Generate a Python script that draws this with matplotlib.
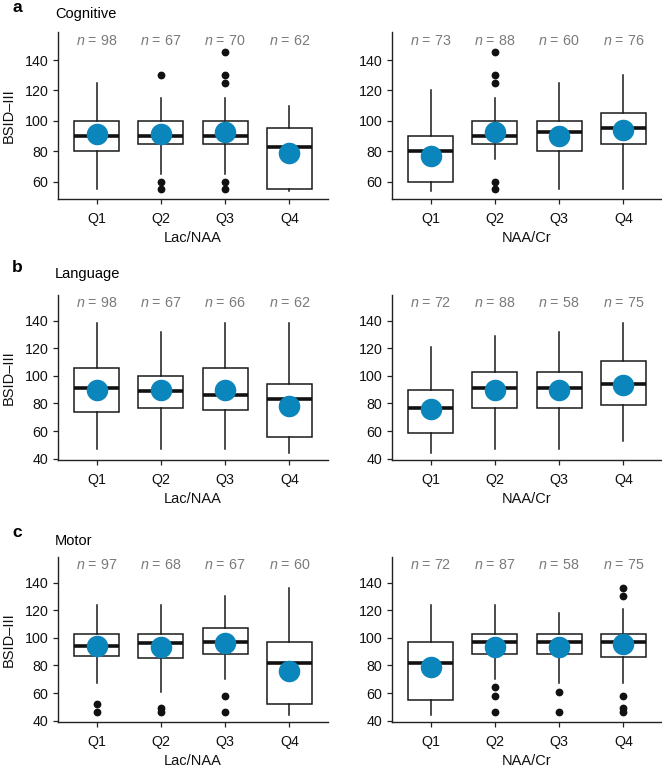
import matplotlib
matplotlib.use("Agg")
import matplotlib.pyplot as plt

plt.rcParams['font.family'] = ['Liberation Sans', 'DejaVu Sans']
plt.rcParams['mathtext.fontset'] = 'custom'
plt.rcParams['mathtext.it'] = 'Liberation Sans:italic'
plt.rcParams['mathtext.rm'] = 'Liberation Sans'

quartiles = ["Q1", "Q2", "Q3", "Q4"]
ratio_names = ["Lac/NAA", "NAA/Cr"]
domains = ["Cognitive", "Language", "Motor"]
panel_letters = ["a", "b", "c"]

# cognitive
cog_lac_whislo = [55, 65, 65, 54]
cog_lac_q1 = [80, 85, 85, 55]
cog_lac_med = [90, 90, 90, 82.5]
cog_lac_q3 = [100, 100, 100, 95]
cog_lac_whishi = [125, 115, 115, 110]
cog_lac_mean = [91, 91, 92.5, 79]
cog_lac_fliers = [[], [130, 60, 55], [145, 130, 125, 60, 55], []]
cog_lac_n = [98, 67, 70, 62]

cog_naa_whislo = [54, 75, 55, 55]
cog_naa_q1 = [60, 85, 80, 85]
cog_naa_med = [80, 90, 92.5, 95]
cog_naa_q3 = [90, 100, 100, 105]
cog_naa_whishi = [120, 115, 125, 130]
cog_naa_mean = [77, 92.5, 90, 94]
cog_naa_fliers = [[], [145, 130, 125, 60, 55], [], []]
cog_naa_n = [73, 88, 60, 76]

# language
lang_lac_whislo = [47, 47, 47, 44]
lang_lac_q1 = [74, 77, 75, 56]
lang_lac_med = [91, 89, 86, 83]
lang_lac_q3 = [105.5, 100, 105.5, 94]
lang_lac_whishi = [138, 132, 138, 138]
lang_lac_mean = [89.5, 89.5, 90, 78]
lang_lac_fliers = [[], [], [], []]
lang_lac_n = [98, 67, 66, 62]

lang_naa_whislo = [44, 47, 47, 53]
lang_naa_q1 = [58.5, 77, 77, 79]
lang_naa_med = [76.5, 91, 91, 94]
lang_naa_q3 = [89.5, 103, 103, 110.5]
lang_naa_whishi = [121, 129, 132, 138]
lang_naa_mean = [76, 89.5, 90, 93.5]
lang_naa_fliers = [[], [], [], []]
lang_naa_n = [72, 88, 58, 75]

# motor
mot_lac_whislo = [67, 61, 70, 44]
mot_lac_q1 = [87, 85, 88, 52]
mot_lac_med = [94, 96, 97, 82]
mot_lac_q3 = [103, 103, 107, 97]
mot_lac_whishi = [124, 124, 130, 136]
mot_lac_mean = [94, 93, 96, 76]
mot_lac_fliers = [[52, 46], [49, 46], [58, 46], []]
mot_lac_n = [97, 68, 67, 60]

mot_naa_whislo = [44, 70, 67, 67]
mot_naa_q1 = [55, 88, 88, 86]
mot_naa_med = [82, 97, 97, 97]
mot_naa_q3 = [97, 103, 103, 103]
mot_naa_whishi = [124, 124, 118, 121]
mot_naa_mean = [79, 93.5, 93.5, 95.5]
mot_naa_fliers = [[], [64, 58, 46], [61, 46], [136, 130, 58, 49, 46]]
mot_naa_n = [72, 87, 58, 75]

panels = [
    [(cog_lac_whislo, cog_lac_q1, cog_lac_med, cog_lac_q3, cog_lac_whishi, cog_lac_mean, cog_lac_fliers, cog_lac_n),
     (cog_naa_whislo, cog_naa_q1, cog_naa_med, cog_naa_q3, cog_naa_whishi, cog_naa_mean, cog_naa_fliers, cog_naa_n)],
    [(lang_lac_whislo, lang_lac_q1, lang_lac_med, lang_lac_q3, lang_lac_whishi, lang_lac_mean, lang_lac_fliers, lang_lac_n),
     (lang_naa_whislo, lang_naa_q1, lang_naa_med, lang_naa_q3, lang_naa_whishi, lang_naa_mean, lang_naa_fliers, lang_naa_n)],
    [(mot_lac_whislo, mot_lac_q1, mot_lac_med, mot_lac_q3, mot_lac_whishi, mot_lac_mean, mot_lac_fliers, mot_lac_n),
     (mot_naa_whislo, mot_naa_q1, mot_naa_med, mot_naa_q3, mot_naa_whishi, mot_naa_mean, mot_naa_fliers, mot_naa_n)],
]

W, H = 662, 771
fig = plt.figure(figsize=(W / 100, H / 100), dpi=100)

row_px = [(32, 199), (295, 460), (557, 722)]  # top, bottom of axes in pixels
letter_base = [11.5, 271.5, 537]
title_base = [18, 277.5, 545]
col_px = [58, 392]
ax_w = 270
ylims = [(48.5, 158.5), (39, 158.5), (39, 158.5)]
yticks = [[60, 80, 100, 120, 140], [40, 60, 80, 100, 120, 140], [40, 60, 80, 100, 120, 140]]

mean_color = "#0B86BC"
pos = [1, 2, 3, 4]
fs = 10.3

for r in range(3):
    top, bot = row_px[r]
    for c in range(2):
        whislo, q1, med, q3, whishi, mean, fliers, n = panels[r][c]
        ax = fig.add_axes([col_px[c] / W, (H - bot) / H, ax_w / W, (bot - top) / H])
        stats = []
        for i in range(4):
            stats.append(dict(whislo=whislo[i], q1=q1[i], med=med[i], q3=q3[i],
                              whishi=whishi[i], fliers=fliers[i]))
        ax.bxp(stats, positions=pos, widths=0.7, showcaps=False, showfliers=True,
               patch_artist=True,
               boxprops=dict(facecolor="white", edgecolor="#1a1a1a", linewidth=1.1),
               medianprops=dict(color="#111111", linewidth=2.6, solid_capstyle="butt"),
               whiskerprops=dict(color="#1a1a1a", linewidth=1.1),
               flierprops=dict(marker="o", markerfacecolor="#111111",
                               markeredgecolor="#111111", markersize=4.6))
        ax.plot(pos, mean, "o", color=mean_color, markersize=14.5, zorder=5)
        for i in range(4):
            ax.text(pos[i], 152.5, "$n$ = %d" % n[i], ha="center", va="center",
                    color="#7a7a7a", fontsize=fs)
        ax.set_xlim(0.4, 4.6)
        ax.set_ylim(*ylims[r])
        ax.set_xticks(pos)
        ax.set_xticklabels(quartiles)
        ax.set_yticks(yticks[r])
        ax.tick_params(labelsize=fs, length=3.6, width=0.9, color="#222222",
                       labelcolor="#111111")
        ax.tick_params(axis="x", pad=5.5)
        ax.tick_params(axis="y", pad=3.2)
        for s in ["top", "right"]:
            ax.spines[s].set_visible(False)
        for s in ["left", "bottom"]:
            ax.spines[s].set_linewidth(1.0)
            ax.spines[s].set_color("#222222")
        ax.set_xlabel(ratio_names[c], fontsize=10.5, labelpad=4, color="#111111")
        if c == 0:
            ax.set_ylabel("BSID–III", fontsize=10.5, color="#111111")
            ax.yaxis.set_label_coords(-0.155, 0.5)

    fig.text(12 / W, 1 - letter_base[r] / H, panel_letters[r], fontsize=12.5, fontweight="bold",
             ha="left", va="baseline")
    fig.text(55 / W, 1 - title_base[r] / H, domains[r], fontsize=10.5, ha="left", va="baseline")

fig.savefig("out.png", dpi=100)
